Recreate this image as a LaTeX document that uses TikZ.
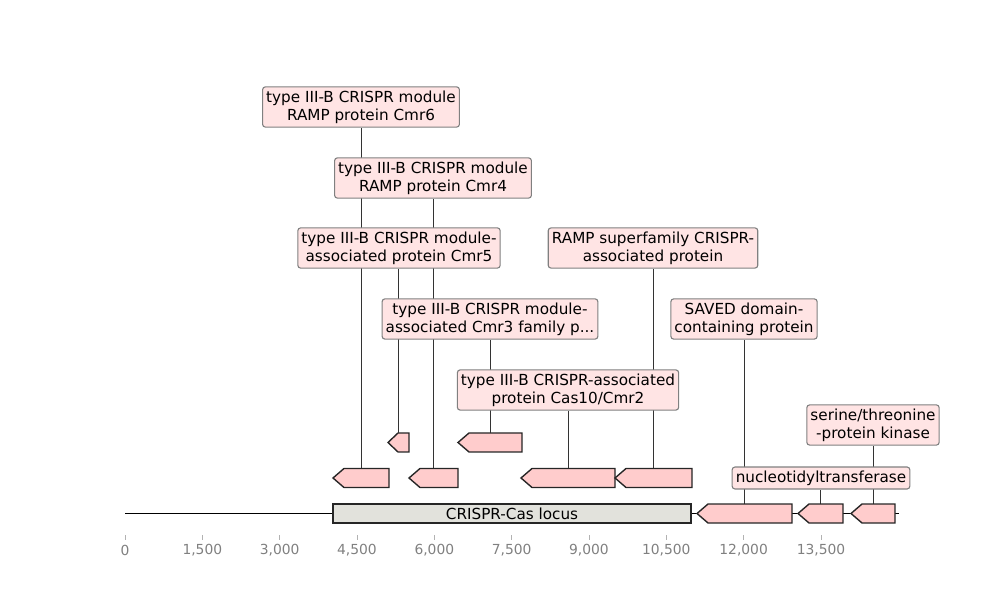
\documentclass[tikz,border=0pt]{standalone}
\usepackage{fontspec}
\setmainfont{DejaVu Sans}
\usepackage{tikz}
\usetikzlibrary{positioning,backgrounds}

\definecolor{genepink}{HTML}{FFCCCC}
\definecolor{labelpink}{HTML}{FFE4E4}
\definecolor{locusgray}{HTML}{E2E2DC}

% gene arrow pointing left: name, tip x, back x, top y
\newcommand{\gene}[4]{%
  \draw[genearrow] (#2,#4+9.5) -- (#2+11,#4) -- (#3,#4) -- (#3,#4+19) -- (#2+11,#4+19) -- cycle;
  \coordinate (#1) at ({(#2+#3)/2},#4);}

\begin{document}
\begin{tikzpicture}[
  x=0.01in, y=-0.01in,
  genearrow/.style={draw=black!85,line width=1pt,fill=genepink,line join=miter},
  lbl/.style={rounded corners=2pt,draw=black!50,line width=0.8pt,fill=labelpink,align=center,
              font=\fontsize{11}{13.2}\selectfont,inner xsep=2.6pt,inner ysep=2.6pt},
  leader/.style={draw=black!80,line width=0.5pt},
  locus/.style={draw=black!85,line width=1pt,fill=locusgray,minimum width=3.58in,minimum height=0.19in,
                inner sep=0pt,font=\fontsize{11}{13.2}\selectfont},
  tick/.style={draw=black!30,line width=0.6pt}
]
  \useasboundingbox (0,0) rectangle (1000,600);

  % sequence line and locus
  \coordinate (seqstart) at (125,513.5);
  \coordinate (seqend) at (899,513.5);
  \draw[line width=1.4pt] (seqstart) -- (seqend);
  \node[locus] (locus) at (512,513.5) {CRISPR-Cas locus};

  % genes
  \gene{gcmr6}{333}{389}{468.5}
  \gene{gcmr4}{409}{458}{468.5}
  \gene{gcas10}{521}{615}{468.5}
  \gene{gramp}{615}{692}{468.5}
  \draw[genearrow] (388,442.5) -- (398,433) -- (409,433) -- (409,452) -- (398,452) -- cycle;
  \coordinate (gcmr5) at (398.5,433);
  \gene{gcmr3}{458}{522}{433}
  \gene{gsaved}{697}{792}{504}
  \gene{gntase}{798}{843}{504}
  \gene{gstk}{851}{895}{504}

  % labels
  \node[lbl] (cmr6) at (361,107) {type III-B CRISPR module\\RAMP protein Cmr6};
  \node[lbl] (cmr4) at (433,178) {type III-B CRISPR module\\RAMP protein Cmr4};
  \node[lbl] (cmr5) at (399,248) {type III-B CRISPR module-\\associated protein Cmr5};
  \node[lbl] (ramp) at (653,248) {RAMP superfamily CRISPR-\\associated protein};
  \node[lbl] (cmr3) at (490,319) {type III-B CRISPR module-\\associated Cmr3 family p...};
  \node[lbl] (saved) at (744,319) {SAVED domain-\\containing protein};
  \node[lbl] (cas10) at (568,390) {type III-B CRISPR-associated\\protein Cas10/Cmr2};
  \node[lbl] (stk) at (873,425) {serine/threonine\\-protein kinase};
  \node[lbl] (ntase) at (821,478) {nucleotidyltransferase};

  % leader lines
  \begin{scope}[on background layer]
    \draw[leader] (gcmr6) -- (gcmr6 |- cmr6.south);
    \draw[leader] (gcmr4) -- (gcmr4 |- cmr4.south);
    \draw[leader] (gcmr5) -- (gcmr5 |- cmr5.south);
    \draw[leader] (gramp) -- (gramp |- ramp.south);
    \draw[leader] (gcmr3) -- (gcmr3 |- cmr3.south);
    \draw[leader] (gsaved) -- (gsaved |- saved.south);
    \draw[leader] (gcas10) -- (gcas10 |- cas10.south);
    \draw[leader] (gstk) -- (gstk |- stk.south);
    \draw[leader] (gntase) -- (gntase |- ntase.south);
  \end{scope}

  % axis ticks
  \foreach \lab [count=\k from 0] in {0,{1,500},{3,000},{4,500},{6,000},{7,500},{9,000},{10,500},{12,000},{13,500}}{
    \draw[tick] (125+\k*77.33,535) -- (125+\k*77.33,539.5);
    \node[text=black!50,font=\fontsize{10}{12}\selectfont] (t\k) at (125+\k*77.33,550.5) {\lab};
  }
\end{tikzpicture}
\end{document}
